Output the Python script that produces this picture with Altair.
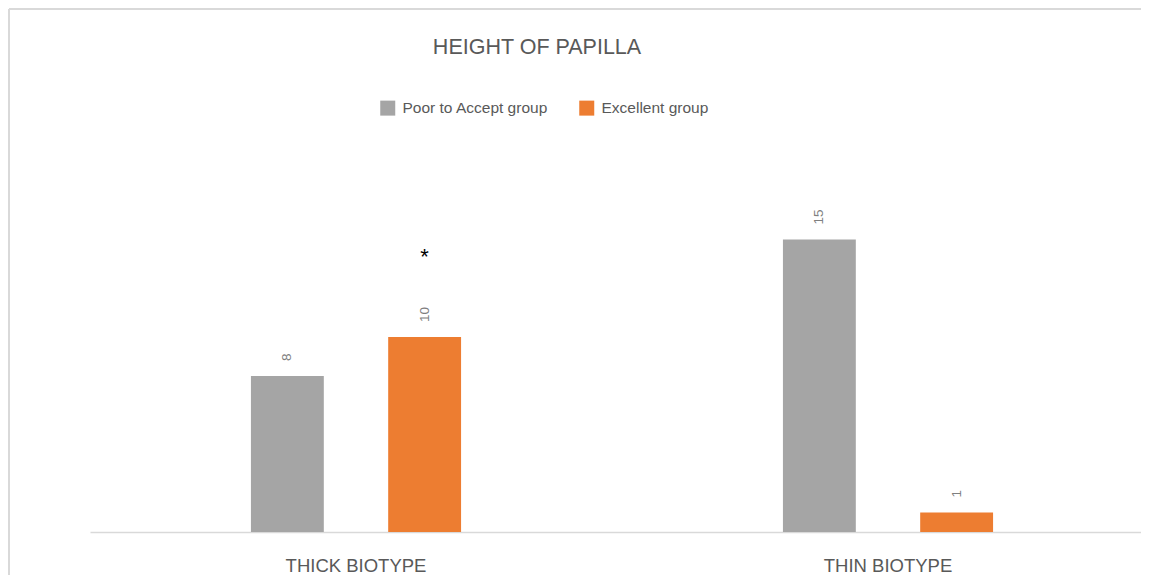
import altair as alt
import pandas as pd

# ---- data ----
chart_title = "HEIGHT OF PAPILLA"
categories = ["THICK BIOTYPE", "THIN BIOTYPE"]
groups = ["Poor to Accept group", "Excellent group"]
poor_values = [8, 15]
excellent_values = [10, 1]
excellent_marks = ["*", ""]   # significance marker above the Excellent bars

colors = ["#a5a5a5", "#ed7d31"]
FONT = "Liberation Sans"
TXT = "#595959"

rows = []
for c, v in zip(categories, poor_values):
    rows.append({"cat": c, "group": groups[0], "value": v, "mark": ""})
for c, v, m in zip(categories, excellent_values, excellent_marks):
    rows.append({"cat": c, "group": groups[1], "value": v, "mark": m})
df = pd.DataFrame(rows)

W, H = 1051, 390
PAD_L, PAD_T, PAD_B = 82, 134, 43

x_enc = alt.X("cat:N", sort=categories, title=None,
              scale=alt.Scale(domain=categories, range=[0, 1064],
                              paddingInner=0.605, paddingOuter=0.3025),
              axis=alt.Axis(labelAngle=0, labelFontSize=18.5, labelColor=TXT,
                            labelFont=FONT, ticks=False, labelPadding=24,
                            domainColor="#d9d9d9", domainWidth=1.5, grid=False))
xo_enc = alt.XOffset("group:N", sort=groups,
                     scale=alt.Scale(domain=groups, paddingInner=0.469, paddingOuter=0))
y_enc = alt.Y("value:Q", axis=None,
              scale=alt.Scale(domain=[0, 20], nice=False, zero=True))

base = alt.Chart(df)

bars = base.mark_bar().encode(
    x=x_enc, xOffset=xo_enc, y=y_enc,
    color=alt.Color("group:N", sort=groups,
                    scale=alt.Scale(domain=groups, range=colors),
                    legend=alt.Legend(orient="none", legendX=290, legendY=-42,
                                      direction="horizontal", columns=2, title=None,
                                      symbolType="square", symbolSize=225,
                                      symbolStrokeWidth=0, labelFontSize=15.5,
                                      labelColor=TXT, labelFont=FONT,
                                      columnPadding=30, labelOffset=7,
                                      labelLimit=300)),
)

value_labels = base.mark_text(angle=270, align="left", baseline="middle", dx=15,
                              fontSize=13.5, font=FONT, color="#7f7f7f").encode(
    x=x_enc, xOffset=xo_enc, y=y_enc, text="value:Q")

sig_labels = base.mark_text(align="center", baseline="middle", dy=-80,
                            fontSize=22, font=FONT, color="#000000").encode(
    x=x_enc, xOffset=xo_enc, y=y_enc, text="mark:N")

one = alt.Data(values=[{"t": chart_title}])
title_mark = alt.Chart(one).mark_text(align="center", baseline="middle",
                                      fontSize=21.5, font=FONT, color=TXT).encode(
    x=alt.value(447), y=alt.value(-94), text="t:N")

frame_top = alt.Chart(one).mark_rule(color="#d9d9d9", strokeWidth=2).encode(
    x=alt.value(-PAD_L + 1), x2=alt.value(W), y=alt.value(-PAD_T + 1))
frame_left = alt.Chart(one).mark_rule(color="#d9d9d9", strokeWidth=2).encode(
    x=alt.value(-PAD_L + 1), y=alt.value(-PAD_T + 1), y2=alt.value(H + PAD_B))

chart = alt.layer(frame_top, frame_left, bars, value_labels, sig_labels, title_mark).properties(
    width=W, height=H,
    background="white",
    autosize=alt.AutoSizeParams(type="none"),
    padding={"left": PAD_L, "top": PAD_T, "right": 0, "bottom": PAD_B},
).configure_view(strokeWidth=0, stroke="transparent")

chart.save("out.html", embed_options={"renderer": "svg", "actions": False})
